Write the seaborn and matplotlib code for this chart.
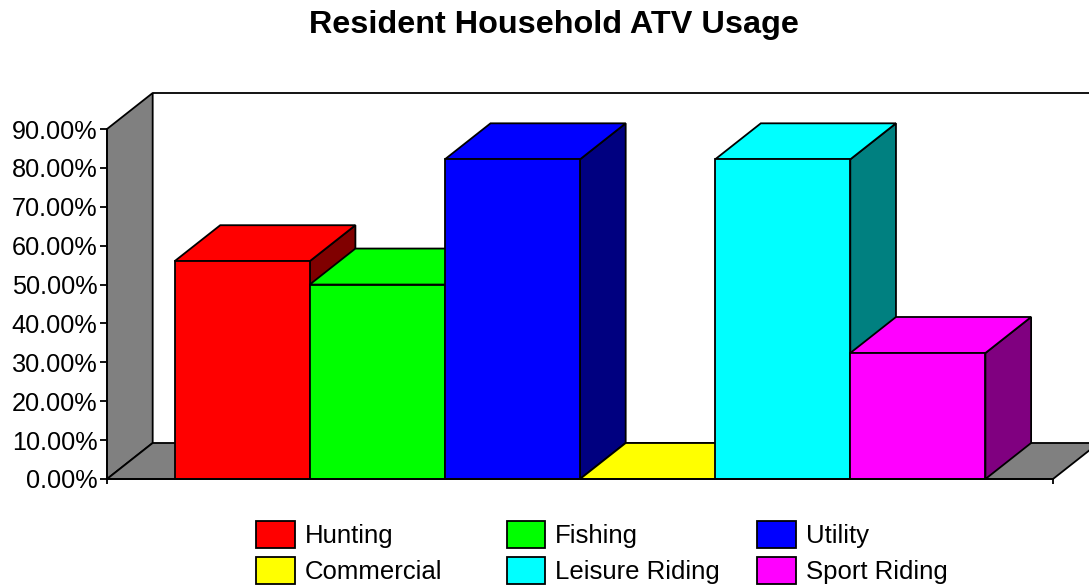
import matplotlib
matplotlib.use("Agg")
import matplotlib.pyplot as plt
from matplotlib.patches import Polygon
import seaborn as sns

categories = ['Hunting', 'Fishing', 'Utility', 'Commercial', 'Leisure Riding', 'Sport Riding']
usage = [56.0, 50.0, 82.2, 0.0, 82.2, 32.4]
front_colors = ['#ff0000', '#00ff00', '#0000ff', '#ffff00', '#00ffff', '#ff00ff']
side_colors = ['#800000', '#008000', '#000080', '#808000', '#008080', '#800080']
y_ticks = [0, 10, 20, 30, 40, 50, 60, 70, 80, 90]
legend_columns = [[0, 3], [1, 4], [2, 5]]

sns.set_style('white')
plt.rcParams['font.family'] = ['Liberation Sans', 'DejaVu Sans']

W, H = 1089, 586
fig = plt.figure(figsize=(W / 100, H / 100), dpi=100)
ax = fig.add_axes([107 / W, (H - 479) / H, 946 / W, 350 / H])

LW = 1.3
DX = 0.338   # depth of the 3D box, in category widths
DY = 9.26    # depth of the 3D box, in percent

sns.barplot(x=categories, y=usage, hue=categories, palette=front_colors, dodge=False,
            saturation=1, width=1, edgecolor='black', linewidth=LW, legend=False, ax=ax)
ax.set_xlim(-1, 6)
ax.set_ylim(0, 90)

# walls and floor
ax.add_patch(Polygon([(-1, 0), (-1, 90), (-1 + DX, 90 + DY), (-1 + DX, DY)], fc='#808080',
                     ec='black', lw=LW, clip_on=False, zorder=1))
ax.add_patch(Polygon([(-1, 0), (6, 0), (6 + DX, DY), (-1 + DX, DY)], fc='#808080',
                     ec='black', lw=LW, clip_on=False, zorder=1))
ax.plot([-1 + DX, 6 + DX], [90 + DY, 90 + DY], color='black', lw=LW, clip_on=False, zorder=1)

# top and side of every bar, later bars cover earlier ones
for i, container in enumerate(ax.containers):
    bar = container[0]
    left, right = bar.get_x(), bar.get_x() + bar.get_width()
    top = bar.get_height()
    z = 10 + 2 * i
    ax.add_patch(Polygon([(right, 0), (right + DX, DY), (right + DX, top + DY), (right, top)],
                         fc=side_colors[i], ec='black', lw=LW, clip_on=False, zorder=z))
    ax.add_patch(Polygon([(left, top), (left + DX, top + DY), (right + DX, top + DY), (right, top)],
                         fc=front_colors[i], ec='black', lw=LW, clip_on=False, zorder=z))
    bar.set_zorder(z + 1)
    bar.set_clip_on(False)

sns.despine(ax=ax, top=True, right=True)
for side in ['left', 'bottom']:
    ax.spines[side].set_linewidth(LW)
    ax.spines[side].set_color('black')
    ax.spines[side].set_zorder(40)

ax.set_yticks(y_ticks)
ax.set_yticklabels([f'{t:.2f}%' for t in y_ticks])
ax.set_xticks([-1, 6])
ax.set_xticklabels(['', ''])
ax.tick_params(axis='y', left=True, length=5, width=LW, labelsize=18.2, pad=2, color='black', labelcolor='black')
ax.tick_params(axis='x', bottom=True, length=3.5, width=LW, color='black')
ax.set_xlabel('')

fig.text(554 / W, 1 - 25 / H, 'Resident Household ATV Usage', ha='center', va='center',
         fontsize=23.3, fontweight='bold', color='black')

# one legend per column so the columns sit at even spacing
for col, idx in enumerate(legend_columns):
    handles = [ax.containers[k][0] for k in idx]
    labels = [categories[k] for k in idx]
    leg = fig.legend(handles, labels, loc='upper left',
                     bbox_to_anchor=((256 + col * 250.5) / W, 1 - 521 / H), bbox_transform=fig.transFigure,
                     frameon=False, fontsize=18.5, handlelength=1.5, handleheight=1.25,
                     handletextpad=0.4, labelspacing=0.33, borderpad=0, borderaxespad=0)
    for text in leg.get_texts():
        text.set_color('black')

fig.savefig('out.png', dpi=100)
